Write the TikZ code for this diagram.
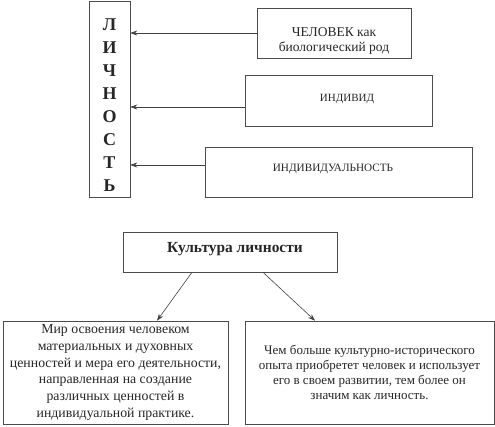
\documentclass[tikz,border=0pt]{standalone}
\usepackage{fontspec}
\setmainfont{Liberation Serif}
\usetikzlibrary{arrows.meta}
\begin{document}
\begin{tikzpicture}[x=1pt,y=1pt,
  boxst/.style={draw=black!70, line width=0.6pt, rectangle, inner sep=0pt},
  txt/.style={align=center, text=black!85, inner sep=0pt},
  arr/.style={draw=black!75, line width=0.6pt, -{Stealth[length=7pt,width=5pt]}},
]
\useasboundingbox (0,0) rectangle (495,426);
% top section
\node[boxst, minimum width=41pt, minimum height=196pt] (lich) at (109.5,327) {};
\node[txt, font=\fontsize{18}{22.9}\selectfont\bfseries] (licht) at (109.5,321) {Л\\И\\Ч\\Н\\О\\С\\Т\\Ь};
\node[boxst, minimum width=154pt, minimum height=50pt] (b1) at (334,393) {};
\node[txt, font=\fontsize{13.5}{15}\selectfont] (t1) at (334,385) {ЧЕЛОВЕК как\\биологический род};
\node[boxst, minimum width=187pt, minimum height=51pt] (b2) at (338.5,325.5) {};
\node[txt, font=\fontsize{11}{12}\selectfont] (t2) at (347,327) {ИНДИВИД};
\node[boxst, minimum width=267pt, minimum height=50pt] (b3) at (338.5,254) {};
\node[txt, font=\fontsize{11.2}{12}\selectfont] (t3) at (333,257) {ИНДИВИДУАЛЬНОСТЬ};
\draw[arr] (b1.west) -- (b1.west -| lich.east);
\draw[arr] ([yshift=-6.5pt]b2.west) -- ([yshift=-6.5pt]b2.west -| lich.east);
\draw[arr] ([yshift=7pt]b3.west) -- ([yshift=7pt]b3.west -| lich.east);
% bottom section
\node[boxst, minimum width=214pt, minimum height=40pt] (kult) at (230,174) {};
\node[txt, font=\fontsize{15.4}{16}\selectfont\bfseries] (tk) at (235,177) {Культура личности};
\node[boxst, minimum width=225pt, minimum height=103pt, txt, font=\fontsize{13.8}{16.7}\selectfont] (L) at (115.5,53.5)
  {Мир освоения человеком\\материальных и духовных\\ценностей и мера его деятельности,\\направленная на создание\\различных ценностей в\\индивидуальной практике.};
\node[boxst, minimum width=249pt, minimum height=103pt, txt, font=\fontsize{13}{15}\selectfont] (R) at (369.5,53.5)
  {Чем больше культурно-исторического\\опыта приобретет человек и использует\\его в своем развитии, тем более он\\значим как личность.};
\draw[arr] ([xshift=-38pt]kult.south) -- ([xshift=41.5pt]L.north);
\draw[arr] ([xshift=33pt]kult.south) -- ([xshift=-54.5pt]R.north);
\end{tikzpicture}
\end{document}
